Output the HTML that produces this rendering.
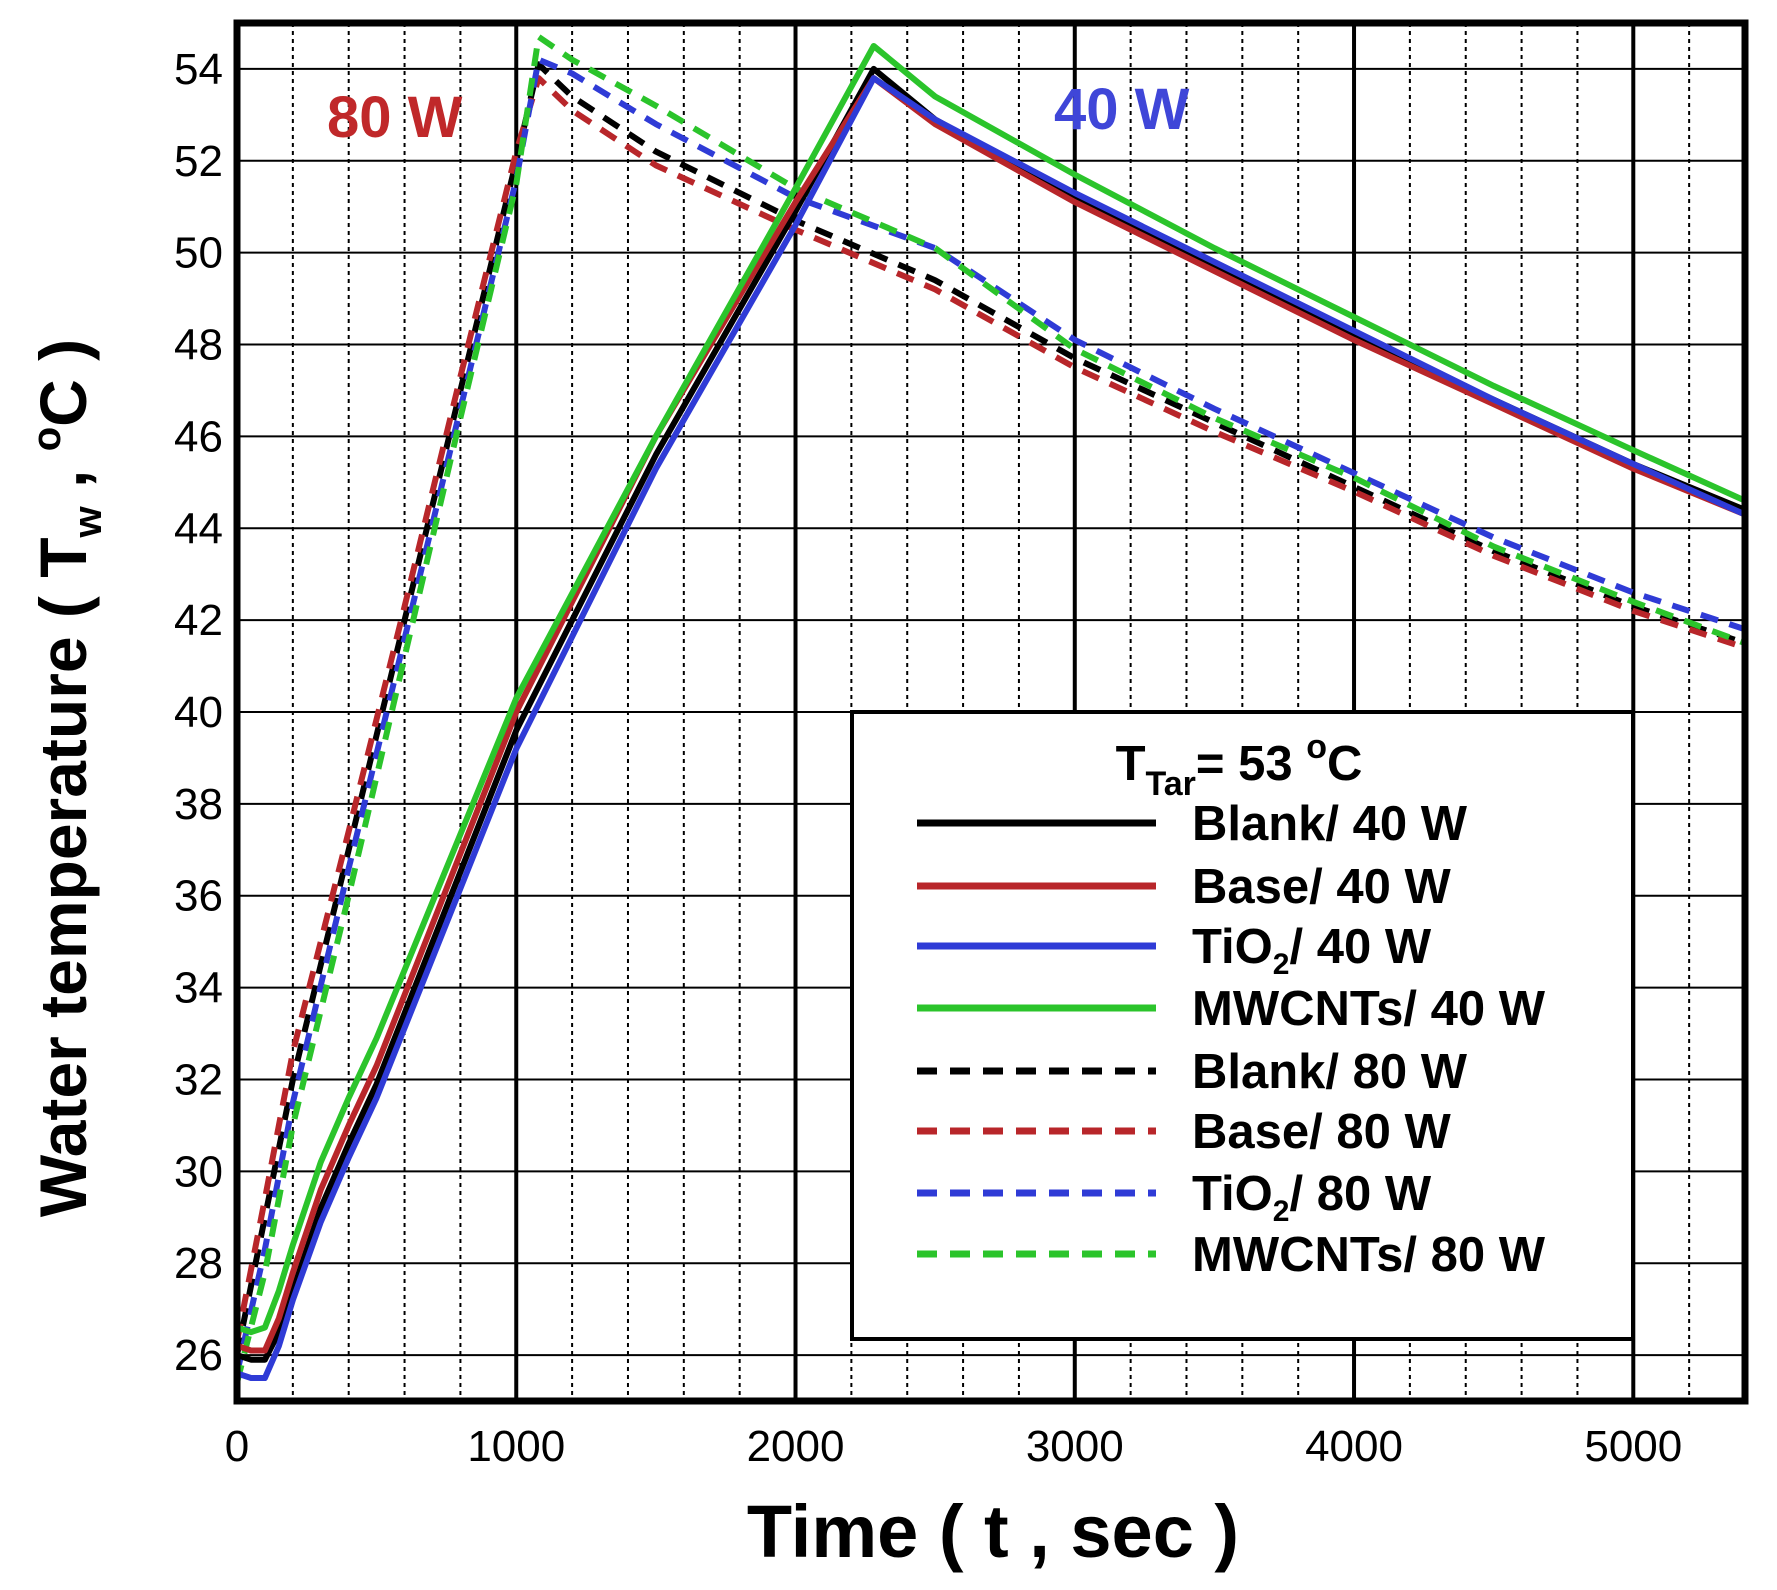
<!DOCTYPE html>
<html><head><meta charset="utf-8"><style>
html,body{margin:0;padding:0;background:#fff;}
svg{display:block;font-family:"Liberation Sans",Arial,sans-serif;}
.leg{font-family:"Liberation Sans",Arial,sans-serif;font-weight:bold;font-size:49px;}
</style></head><body>
<svg id="chart" width="1777" height="1590" viewBox="0 0 1777 1590">
<g id="grid"></g>
<g id="series"></g>
<g id="axes"></g>
<g id="legend"></g>
<text x="327" y="137" font-size="58" font-weight="bold" fill="#c0282a">80 W</text>
<text x="1054" y="129" font-size="58" font-weight="bold" fill="#3f46d8">40 W</text>
<text x="993" y="1557" font-size="74" font-weight="bold" text-anchor="middle">Time ( t , sec )</text>
<text transform="translate(86,778) rotate(-90)" font-size="66" font-weight="bold" text-anchor="middle">Water temperature ( T<tspan font-size="40" dy="15">w</tspan><tspan dy="-15"> , </tspan><tspan font-size="40" dy="-26">o</tspan><tspan dy="26">C )</tspan></text>
</svg>
<script>
const xTicks=[0,1000,2000,3000,4000,5000];
const yTicks=[26,28,30,32,34,36,38,40,42,44,46,48,50,52,54];
const seriesNames=["Blank/ 40 W","Base/ 40 W","TiO2/ 40 W","MWCNTs/ 40 W","Blank/ 80 W","Base/ 80 W","TiO2/ 80 W","MWCNTs/ 80 W"];
const tBlank40=[0,50,100,150,200,300,400,500,1000,1500,2000,2280,2500,3000,3500,4000,4500,5000,5400];
const vBlank40=[26.0,25.9,25.9,26.5,27.4,29.2,30.6,31.9,39.6,45.6,50.9,54.0,52.9,51.2,49.7,48.2,46.8,45.4,44.4];
const vBase40=[26.2,26.1,26.1,26.8,27.8,29.6,31.0,32.3,40.0,46.0,51.1,53.8,52.8,51.1,49.6,48.1,46.7,45.3,44.3];
const vTiO240=[25.6,25.5,25.5,26.2,27.2,28.9,30.3,31.6,39.2,45.3,50.6,53.8,52.9,51.3,49.8,48.3,46.8,45.4,44.3];
const vMW40=[26.6,26.5,26.6,27.4,28.4,30.2,31.6,32.9,40.3,46.0,51.4,54.5,53.4,51.7,50.1,48.6,47.1,45.7,44.6];
const t80=[0,100,200,400,600,800,1000,1080,1200,1500,2000,2500,3000,3500,4000,4500,5000,5400];
const vBlank80=[26.0,29.0,32.0,37.0,42.0,47.0,52.0,54.1,53.4,52.2,50.7,49.4,47.7,46.3,44.9,43.5,42.3,41.5];
const vBase80=[26.3,29.4,32.6,37.4,42.3,47.3,52.2,53.8,53.1,51.9,50.5,49.2,47.5,46.1,44.8,43.4,42.2,41.4];
const vTiO280=[25.6,28.3,31.5,36.6,41.6,46.6,51.6,54.2,53.9,52.8,51.2,50.1,48.1,46.6,45.2,43.8,42.6,41.8];
const vMW80=[25.4,27.8,31.0,36.0,41.2,46.4,51.5,54.7,54.2,53.2,51.4,50.1,47.9,46.4,45.1,43.6,42.4,41.5];
const colors=["#000","#b8262a","#2f3bd6","#2bc42b","#000","#b8262a","#2f3bd6","#2bc42b"];
const L=237,R=1745,T=23,B=1401,XMAX=5400,YMIN=25,YMAX=55;
const xs=v=>L+(v/XMAX)*(R-L), ys=v=>B-(v-YMIN)/(YMAX-YMIN)*(B-T);
const NS="http://www.w3.org/2000/svg";
function mk(tag,attrs,parent){const e=document.createElementNS(NS,tag);for(const k in attrs)e.setAttribute(k,attrs[k]);parent.appendChild(e);return e;}
const grid=document.getElementById('grid'),axes=document.getElementById('axes'),ser=document.getElementById('series'),leg=document.getElementById('legend');
for(let t=200;t<XMAX;t+=200){
  const major=t%1000===0;
  const l=mk('line',{x1:xs(t),x2:xs(t),y1:T,y2:B,stroke:'#000','stroke-width':major?4:2,'stroke-dasharray':major?'none':'4 4'},grid);
  
  
}
yTicks.forEach(v=>{
  const l=mk('line',{x1:L,x2:R,y1:ys(v),y2:ys(v),stroke:'#000','stroke-width':2},grid);
  
  
  const tx=mk('text',{x:L-14,y:ys(v)+15,'font-size':44,'text-anchor':'end'},axes);
  tx.textContent=v;
  
  
});
xTicks.forEach(v=>{
  const tx=mk('text',{x:xs(v),y:B+60,'font-size':44,'text-anchor':'middle'},axes);
  tx.textContent=v;
  
  
});
const frame=mk('rect',{x:L,y:T,width:R-L,height:B-T,fill:'none',stroke:'#000','stroke-width':7},axes);


const data=[[tBlank40,vBlank40],[tBlank40,vBase40],[tBlank40,vTiO240],[tBlank40,vMW40],[t80,vBlank80],[t80,vBase80],[t80,vTiO280],[t80,vMW80]];
const clip=mk('clipPath',{id:'pc'},mk('defs',{},ser));
mk('rect',{x:L,y:T,width:R-L,height:B-T},clip);
ser.setAttribute('clip-path','url(#pc)');
const drawOrder=[4,5,6,7,0,1,2,3];
drawOrder.forEach(i=>{
  const [tt,vv]=data[i];
  const pts=tt.map((t,j)=>xs(t).toFixed(1)+','+ys(vv[j]).toFixed(1)).join(' ');
  const p=mk('polyline',{points:pts,fill:'none',stroke:colors[i],'stroke-width':6,'stroke-linejoin':'round','stroke-dasharray':i>=4?'18 12':'none'},ser);
  
  
});
const box=mk('rect',{x:852,y:712,width:781,height:627,fill:'#fff',stroke:'#000','stroke-width':4},leg);


const title=mk('text',{x:1239,y:780,'text-anchor':'middle',class:'leg','font-size':54},leg);
title.innerHTML='T<tspan font-size="34" dy="15">Tar</tspan><tspan dy="-15">= 53 </tspan><tspan font-size="34" dy="-22">o</tspan><tspan dy="22">C</tspan>';


const rowsY=[823,886,946,1008,1071,1131,1193,1254];
seriesNames.forEach((n,i)=>{
  const y=rowsY[i];
  const g=mk('g',{},leg);
  
  
  mk('line',{x1:917,x2:1156,y1:y,y2:y,stroke:colors[i],'stroke-width':7,'stroke-dasharray':i>=4?'20 13':'none'},g);
  const tx=mk('text',{x:1192,y:y+17,class:'leg'},g);
  tx.innerHTML=n.indexOf('TiO2')===0?'TiO<tspan font-size="30" dy="11">2</tspan><tspan dy="-11">'+n.slice(4)+'</tspan>':n;
});
</script>
</body></html>
